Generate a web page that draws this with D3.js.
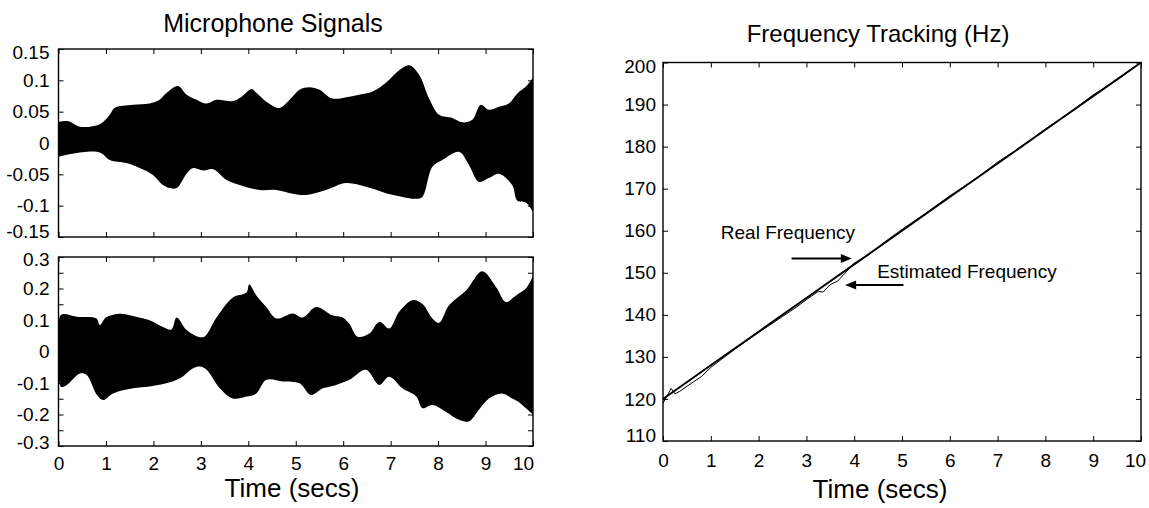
<!DOCTYPE html>
<html>
<head>
<meta charset="utf-8">
<script src="https://cdn.jsdelivr.net/npm/d3@7"></script>
<style>
  body { margin: 0; background: #fff; }
  text { font-family: "Liberation Sans", Arial, sans-serif; fill: #000; }
</style>
</head>
<body>
<svg id="chart"></svg>
<script>
// ---- data ----
const timeTicks = [0, 1, 2, 3, 4, 5, 6, 7, 8, 9, 10];

// microphone 1 envelope [time, amplitude]
const mic1Upper = [[0,0.034],[0.2,0.035],[0.45,0.026],[0.87,0.030],[1.08,0.045],[1.18,0.056],[1.57,0.061],[1.92,0.063],[2.13,0.069],[2.28,0.080],[2.52,0.091],[2.70,0.077],[2.91,0.069],[3.12,0.063],[3.33,0.069],[3.67,0.067],[3.86,0.074],[4.07,0.086],[4.17,0.080],[4.38,0.066],[4.66,0.056],[4.87,0.069],[5.08,0.085],[5.29,0.089],[5.50,0.085],[5.77,0.071],[6.13,0.074],[6.34,0.077],[6.62,0.082],[6.90,0.096],[7.18,0.116],[7.39,0.124],[7.60,0.109],[7.81,0.071],[8.02,0.045],[8.30,0.040],[8.51,0.033],[8.72,0.037],[8.90,0.061],[9.07,0.053],[9.28,0.058],[9.49,0.063],[9.67,0.079],[9.85,0.090],[10,0.104]];
const mic1Lower = [[0,-0.022],[0.3,-0.017],[0.87,-0.015],[1.08,-0.027],[1.43,-0.032],[1.71,-0.040],[1.99,-0.051],[2.20,-0.067],[2.35,-0.072],[2.49,-0.072],[2.70,-0.049],[2.84,-0.040],[3.05,-0.044],[3.26,-0.042],[3.54,-0.059],[3.82,-0.067],[4.24,-0.075],[4.59,-0.075],[4.94,-0.081],[5.22,-0.083],[5.64,-0.075],[6.06,-0.064],[6.48,-0.070],[6.90,-0.080],[7.25,-0.086],[7.54,-0.089],[7.67,-0.086],[7.88,-0.038],[8.09,-0.027],[8.44,-0.014],[8.65,-0.035],[8.86,-0.062],[9.07,-0.056],[9.28,-0.049],[9.56,-0.067],[9.67,-0.092],[9.85,-0.095],[10,-0.110]];

// microphone 2 envelope
const mic2Upper = [[0,0.05],[0.05,0.116],[0.4,0.110],[0.8,0.105],[0.87,0.084],[1.0,0.108],[1.29,0.120],[1.57,0.113],[1.92,0.099],[2.2,0.078],[2.38,0.070],[2.49,0.108],[2.70,0.068],[2.94,0.047],[3.08,0.048],[3.33,0.108],[3.67,0.171],[3.96,0.187],[4.02,0.213],[4.17,0.178],[4.38,0.141],[4.59,0.105],[4.94,0.121],[5.15,0.108],[5.43,0.141],[5.77,0.115],[5.99,0.108],[6.13,0.088],[6.30,0.047],[6.55,0.057],[6.76,0.094],[6.97,0.073],[7.18,0.126],[7.46,0.163],[7.67,0.151],[7.88,0.105],[8.02,0.091],[8.23,0.147],[8.59,0.194],[8.93,0.255],[9.22,0.205],[9.43,0.157],[9.60,0.173],[9.70,0.184],[9.85,0.200],[10,0.240]];
const mic2Lower = [[0,-0.05],[0.05,-0.112],[0.17,-0.107],[0.45,-0.070],[0.59,-0.074],[0.81,-0.138],[0.94,-0.154],[1.15,-0.133],[1.57,-0.117],[1.92,-0.111],[2.27,-0.101],[2.56,-0.085],[2.84,-0.053],[2.98,-0.048],[3.12,-0.058],[3.40,-0.117],[3.67,-0.149],[3.96,-0.143],[4.17,-0.133],[4.38,-0.090],[4.73,-0.095],[5.08,-0.101],[5.32,-0.138],[5.57,-0.117],[5.85,-0.106],[6.13,-0.090],[6.48,-0.058],[6.76,-0.106],[6.97,-0.080],[7.25,-0.117],[7.54,-0.143],[7.67,-0.180],[7.88,-0.170],[8.16,-0.191],[8.44,-0.217],[8.65,-0.222],[8.86,-0.185],[9.07,-0.149],[9.35,-0.133],[9.56,-0.149],[9.70,-0.160],[9.85,-0.180],[10,-0.200]];

const mic1Ticks = [-0.15, -0.1, -0.05, 0, 0.05, 0.1, 0.15];
const mic2Ticks = [-0.3, -0.25, -0.2, -0.15, -0.1, -0.05, 0, 0.05, 0.1, 0.15, 0.2, 0.25, 0.3];
const mic2Labels = [-0.3, -0.2, -0.1, 0, 0.1, 0.2, 0.3];

// frequency tracking [time, Hz]
const realFreq = [[0,120],[1,128],[2,136],[3,144],[4,152],[5,160],[6,168],[7,176],[8,184],[9,192],[10,200]];
const estFreq = [[0,119.0],[0.1,121.0],[0.17,122.5],[0.25,121.2],[0.35,121.8],[0.5,123.0],[0.8,125.3],[1.0,127.5],[1.5,131.8],[2.0,135.8],[2.5,139.6],[2.75,141.5],[3.0,143.6],[3.25,145.6],[3.35,145.4],[3.5,147.2],[3.65,148.0],[3.8,149.8],[4.0,152.3],[4.3,154.2],[4.6,157.0],[5.0,160.3],[5.5,164.2],[6.0,168.3],[6.5,172.0],[7.0,176.3],[7.5,180.0],[8.0,184.2],[8.5,188.0],[9.0,192.3],[9.5,195.8],[10,200]];
const freqTicks = [110, 120, 130, 140, 150, 160, 170, 180, 190, 200];

const notes = [
  { text: "Real Frequency", t: 1.21, f: 158.0 },
  { text: "Estimated Frequency", t: 4.48, f: 148.7 }
];
const arrows = [
  { from: [2.69, 153.4], to: [3.95, 153.4] },
  { from: [5.03, 147.1], to: [3.81, 147.1] }
];

// ---- layout ----
const W = 1149, H = 508;
const svg = d3.select("#chart").attr("width", W).attr("height", H);
const FONT = "Liberation Sans, Arial, sans-serif";

function fmt(d) { return String(+d.toFixed(2)); }

function drawFrame(x, y, o) {
  const g = svg.append("g");
  const [xa, xb] = x.range();
  const [yb, ya] = y.range();
  const style = sel => {
    sel.attr("font-size", 19).attr("font-family", FONT);
    sel.select(".domain").remove();
    sel.selectAll(".tick line").attr("stroke-width", 1);
  };

  g.append("g").attr("transform", `translate(0,${yb})`)
    .call(d3.axisBottom(x).tickValues(timeTicks).tickSize(-5).tickPadding(o.xPad)
      .tickFormat(o.xLabels ? d3.format("d") : ""))
    .call(style)
    .selectAll(".tick text")
    .attr("transform", d => d === 10 ? `translate(${o.lastShift},0)` : null);
  g.append("g").attr("transform", `translate(0,${ya})`)
    .call(d3.axisTop(x).tickValues(timeTicks).tickSize(-5).tickFormat(""))
    .call(style);

  const yMax = d3.max(o.yTicks), yMin = d3.min(o.yTicks);
  g.append("g").attr("transform", `translate(${xa},0)`)
    .call(d3.axisLeft(y).tickValues(o.yTicks).tickSize(-5).tickPadding(o.yPad)
      .tickFormat(d => o.yLabels.some(l => Math.abs(l - d) < 1e-9) ? fmt(d) : ""))
    .call(style)
    .selectAll(".tick text")
    .attr("transform", d => d === yMax ? `translate(0,${o.topShift})` : d === yMin ? `translate(0,${o.botShift})` : null);
  g.append("g").attr("transform", `translate(${xb},0)`)
    .call(d3.axisRight(y).tickValues(o.yTicks).tickSize(-5).tickFormat(""))
    .call(style);

  g.append("rect")
    .attr("x", xa).attr("y", ya)
    .attr("width", xb - xa).attr("height", yb - ya)
    .attr("fill", "none").attr("stroke", "#000").attr("stroke-width", 1.4);
  return g;
}

function envelope(x, y, upper, lower) {
  const line = d3.line().x(d => x(d[0])).y(d => y(d[1])).curve(d3.curveCatmullRom.alpha(0.5));
  const top = line(upper);
  const bot = line(lower.slice().reverse()).replace(/^M/, "L");
  svg.append("path")
    .attr("d", top + bot + "Z")
    .attr("fill", "#000");
}

// left column: microphone signals
const xL = d3.scaleLinear().domain([0, 10]).range([58.5, 533]);
const y1 = d3.scaleLinear().domain([-0.15, 0.15]).range([237, 49]);
const y2 = d3.scaleLinear().domain([-0.3, 0.3]).range([446, 257]);

envelope(xL, y1, mic1Upper, mic1Lower);
envelope(xL, y2, mic2Upper, mic2Lower);
drawFrame(xL, y1, { yTicks: mic1Ticks, yLabels: mic1Ticks, xLabels: false, xPad: 0, yPad: 9, topShift: 3, botShift: -6, lastShift: 0 });
drawFrame(xL, y2, { yTicks: mic2Ticks, yLabels: mic2Labels, xLabels: true, xPad: 11, yPad: 9, topShift: 2, botShift: -4, lastShift: -10 });

svg.append("text").attr("x", 273).attr("y", 32).attr("text-anchor", "middle")
  .attr("font-size", 25).text("Microphone Signals");
svg.append("text").attr("x", 292).attr("y", 497).attr("text-anchor", "middle")
  .attr("font-size", 26).text("Time (secs)");

// right column: frequency tracking
const xR = d3.scaleLinear().domain([0, 10]).range([663, 1141]);
const yR = d3.scaleLinear().domain([110, 200]).range([441, 62.5]);

const fLine = d3.line().x(d => xR(d[0])).y(d => yR(d[1]));
svg.append("path").attr("d", fLine(realFreq))
  .attr("fill", "none").attr("stroke", "#000").attr("stroke-width", 1.9);
svg.append("path").attr("d", fLine(estFreq))
  .attr("fill", "none").attr("stroke", "#000").attr("stroke-width", 1);

drawFrame(xR, yR, { yTicks: freqTicks, yLabels: freqTicks, xLabels: true, xPad: 13, yPad: 7, topShift: 4, botShift: -6, lastShift: -6 });

svg.append("text").attr("x", 878).attr("y", 42).attr("text-anchor", "middle")
  .attr("font-size", 24).text("Frequency Tracking (Hz)");
svg.append("text").attr("x", 880).attr("y", 498).attr("text-anchor", "middle")
  .attr("font-size", 26).text("Time (secs)");

svg.selectAll(".note").data(notes).enter().append("text")
  .attr("class", "note")
  .attr("x", d => xR(d.t)).attr("y", d => yR(d.f))
  .attr("font-size", 19).text(d => d.text);

arrows.forEach(a => {
  const x0 = xR(a.from[0]), x1 = xR(a.to[0]), yy = yR(a.from[1]);
  const dir = Math.sign(x1 - x0), head = 11;
  svg.append("line")
    .attr("x1", x0).attr("y1", yy).attr("x2", x1 - dir * head + dir).attr("y2", yy)
    .attr("stroke", "#000").attr("stroke-width", 2);
  svg.append("path")
    .attr("d", `M${x1},${yy}L${x1 - dir * head},${yy - 4.5}L${x1 - dir * head},${yy + 4.5}Z`)
    .attr("fill", "#000");
});
</script>
</body>
</html>
